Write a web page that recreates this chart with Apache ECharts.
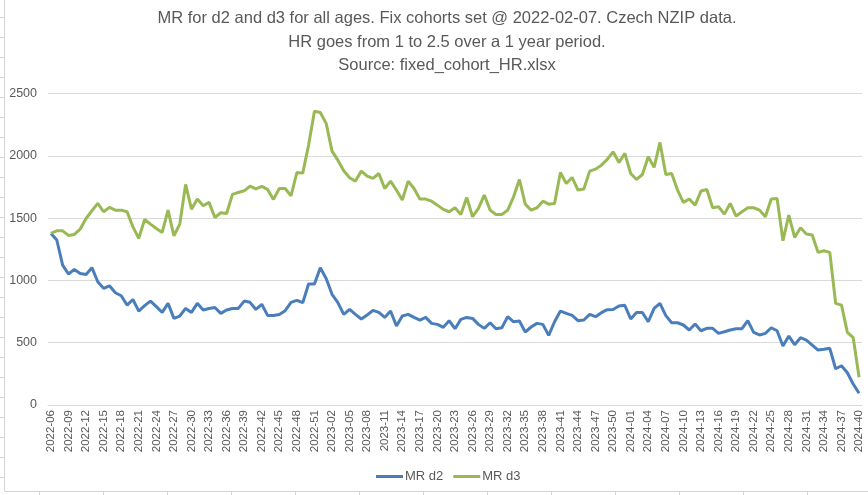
<!DOCTYPE html>
<html>
<head>
<meta charset="utf-8">
<script src="https://cdn.jsdelivr.net/npm/echarts@6/dist/echarts.min.js"></script>
<style>
html,body{margin:0;padding:0;background:#fff;}
#chart{width:868px;height:495px;}
</style>
</head>
<body>
<div id="chart"></div>
<script>
var categories = [
"2022-06","2022-07","2022-08","2022-09","2022-10","2022-11","2022-12","2022-13","2022-14","2022-15","2022-16","2022-17","2022-18","2022-19","2022-20","2022-21","2022-22","2022-23","2022-24","2022-25","2022-26","2022-27","2022-28","2022-29","2022-30","2022-31","2022-32","2022-33","2022-34","2022-35","2022-36","2022-37","2022-38","2022-39","2022-40","2022-41","2022-42","2022-43","2022-44","2022-45","2022-46","2022-47","2022-48","2022-49","2022-50","2022-51","2022-52",
"2023-01","2023-02","2023-03","2023-04","2023-05","2023-06","2023-07","2023-08","2023-09","2023-10","2023-11","2023-12","2023-13","2023-14","2023-15","2023-16","2023-17","2023-18","2023-19","2023-20","2023-21","2023-22","2023-23","2023-24","2023-25","2023-26","2023-27","2023-28","2023-29","2023-30","2023-31","2023-32","2023-33","2023-34","2023-35","2023-36","2023-37","2023-38","2023-39","2023-40","2023-41","2023-42","2023-43","2023-44","2023-45","2023-46","2023-47","2023-48","2023-49","2023-50","2023-51","2023-52",
"2024-01","2024-02","2024-03","2024-04","2024-05","2024-06","2024-07","2024-08","2024-09","2024-10","2024-11","2024-12","2024-13","2024-14","2024-15","2024-16","2024-17","2024-18","2024-19","2024-20","2024-21","2024-22","2024-23","2024-24","2024-25","2024-26","2024-27","2024-28","2024-29","2024-30","2024-31","2024-32","2024-33","2024-34","2024-35","2024-36","2024-37","2024-38","2024-39","2024-40"
];

var mrD2 = [
1377,1324,1123,1051,1088,1056,1048,1102,989,936,
957,901,877,802,847,754,797,834,789,743,
816,695,714,775,743,816,762,775,783,735,
762,775,775,834,824,767,808,719,719,727,
757,824,840,821,971,971,1102,1016,888,821,
727,767,727,690,722,759,743,703,754,634,
714,727,703,682,703,655,647,623,677,612,
687,703,695,647,615,660,612,620,709,668,
674,586,626,655,647,559,668,754,735,719,
677,682,727,709,741,765,767,794,800,690,
743,743,668,775,816,717,660,660,642,602,
650,596,615,615,575,588,602,612,612,677,
583,562,575,620,596,473,553,484,540,521,
481,441,447,455,291,315,259,168,94
];

var mrD3 = [
1377,1398,1398,1361,1369,1412,1497,1559,1618,1551,
1586,1564,1564,1551,1430,1337,1489,1452,1417,1385,
1564,1358,1452,1770,1572,1653,1599,1626,1505,1543,
1537,1690,1706,1719,1757,1735,1754,1730,1650,1738,
1738,1679,1866,1861,2086,2358,2348,2260,2038,1965,
1880,1824,1797,1877,1837,1818,1858,1738,1797,1725,
1645,1797,1738,1653,1653,1636,1604,1570,1551,1583,
1529,1666,1511,1578,1685,1564,1529,1529,1564,1671,
1810,1612,1564,1583,1636,1612,1618,1866,1778,1826,
1725,1733,1877,1893,1925,1971,2032,1947,2019,1858,
1810,1850,1992,1907,2107,1850,1858,1725,1626,1653,
1604,1717,1730,1583,1591,1532,1618,1516,1551,1583,
1583,1564,1511,1653,1658,1318,1524,1345,1423,1372,
1364,1225,1238,1225,816,802,583,540,222
];

var yTicks = [0, 500, 1000, 1500, 2000, 2500];

var titleLines = [
"MR for d2 and d3 for all ages. Fix cohorts set @ 2022-02-07. Czech NZIP data.",
"HR goes from 1 to 2.5 over a 1 year period.",
"Source: fixed_cohort_HR.xlsx"
];

// spreadsheet cell borders around the chart object
var graphics = [];
var gridColor = '#d4d4d4';
graphics.push({type:'line', shape:{x1:4.5,y1:0,x2:4.5,y2:491.5}, style:{stroke:gridColor,lineWidth:1}, silent:true});
graphics.push({type:'line', shape:{x1:4.5,y1:491.5,x2:868,y2:491.5}, style:{stroke:gridColor,lineWidth:1}, silent:true});
for (var yy = 17.5; yy < 491; yy += 20) {
  graphics.push({type:'line', shape:{x1:0,y1:yy,x2:4,y2:yy}, style:{stroke:gridColor,lineWidth:1}, silent:true});
}
for (var xx = 39.5; xx < 868; xx += 64) {
  graphics.push({type:'line', shape:{x1:xx,y1:492,x2:xx,y2:495}, style:{stroke:gridColor,lineWidth:1}, silent:true});
}

var chart = echarts.init(document.getElementById('chart'), null, {renderer:'canvas'});
var txt = '#595959';
var fontFam = '"Liberation Sans", Arial, sans-serif';
chart.setOption({
  animation: false,
  backgroundColor: '#ffffff',
  textStyle: {fontFamily: fontFam},
  title: {
    text: titleLines.join('\n'),
    left: 442,
    top: 2,
    textAlign: 'center',
    textStyle: {color: txt, fontSize: 16.5, fontWeight: 'normal', lineHeight: 23.5, fontFamily: fontFam}
  },
  legend: {
    data: ['MR d2', 'MR d3'],
    left: 371,
    top: 465,
    icon: 'rect',
    itemWidth: 27,
    itemHeight: 3,
    itemGap: 10,
    textStyle: {color: txt, fontSize: 13, padding: [0,0,0,-3]}
  },
  graphic: graphics,
  grid: {left: 48, right: 6, top: 93.5, bottom: 90, containLabel: false},
  xAxis: {
    type: 'category',
    data: categories,
    boundaryGap: true,
    axisLine: {show: true, lineStyle: {color: '#d9d9d9', width: 1}},
    axisTick: {show: false},
    axisLabel: {interval: 2, rotate: 90, color: txt, fontSize: 11.5, margin: 5}
  },
  yAxis: {
    type: 'value',
    min: yTicks[0],
    max: yTicks[yTicks.length-1],
    interval: 500,
    axisLine: {show: false},
    axisTick: {show: false},
    axisLabel: {color: txt, fontSize: 12.5, margin: 11, formatter: function (v) { return String(v); }},
    splitLine: {lineStyle: {color: '#d9d9d9', width: 1}}
  },
  series: [
    {name: 'MR d2', type: 'line', data: mrD2, symbol: 'none', lineStyle: {color: '#4A7EBB', width: 3}, itemStyle: {color: '#4A7EBB'}},
    {name: 'MR d3', type: 'line', data: mrD3, symbol: 'none', lineStyle: {color: '#98B954', width: 3}, itemStyle: {color: '#98B954'}}
  ]
});
</script>
</body>
</html>
